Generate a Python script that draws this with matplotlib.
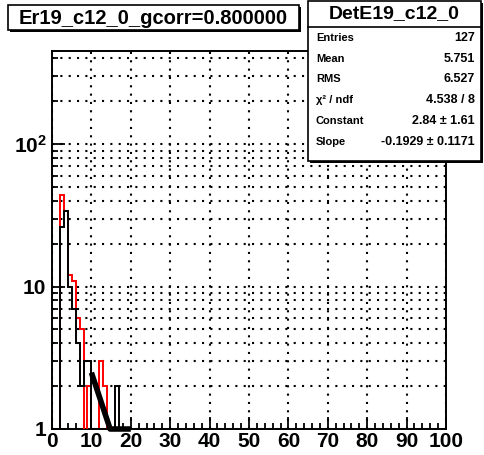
import matplotlib.pyplot as plt
import matplotlib.patches as patches
import numpy as np

plt.rcParams['font.family'] = ['Liberation Sans', 'DejaVu Sans']
plt.rcParams['font.weight'] = 'bold'
plt.rcParams['mathtext.fontset'] = 'custom'
plt.rcParams['mathtext.rm'] = 'Liberation Sans:bold'
plt.rcParams['mathtext.bf'] = 'Liberation Sans:bold'
plt.rcParams['mathtext.default'] = 'bf'

# histogram contents, bins of width 1 from 0 to 20 (rest empty up to 100)
black_counts = [0, 0, 26, 34, 10, 7, 4, 2, 3, 3, 1, 1, 1, 1, 1, 1, 2, 1, 0, 0]
red_counts = [0, 0, 44, 34, 12, 11, 6, 5, 0, 2, 0, 0, 3, 2, 0, 0, 0, 0, 0, 0]

title = 'Er19_c12_0_gcorr=0.800000'
stat_name = 'DetE19_c12_0'
stat_labels = ['Entries', 'Mean', 'RMS', 'χ² / ndf', 'Constant', 'Slope']
stat_values = ['127', '5.751', '6.527', '4.538 / 8', '2.84 ± 1.61', '-0.1929 ± 0.1171']

fit_const = 2.84
fit_slope = -0.1929
fit_range = (10, 20)

xmax = 100
ymin, ymax = 1, 450

W, H = 485, 455
fig = plt.figure(figsize=(W / 100, H / 100), dpi=100)
ax = fig.add_axes([52 / W, (H - 429) / H, (446 - 52) / W, (429 - 51) / H])

edges = np.arange(0, xmax + 1)
black = np.zeros(xmax)
red = np.zeros(xmax)
black[:len(black_counts)] = black_counts
red[:len(red_counts)] = red_counts

ax.set_yscale('log')
ax.set_xlim(0, xmax)
ax.set_ylim(ymin, ymax)

ax.stairs(red, edges, baseline=0, color='red', lw=1.4, zorder=3)
ax.stairs(black, edges, baseline=0, color='black', lw=1.4, zorder=4)

xf = np.linspace(fit_range[0], fit_range[1], 300)
yf = np.exp(fit_const + fit_slope * xf)
ax.plot(xf, np.clip(yf, ymin, None), color='black', lw=4, zorder=5,
        clip_on=False, solid_capstyle='butt')

# ticks and grid
ax.set_xticks(np.arange(0, 101, 10))
ax.set_xticks(np.arange(0, 101, 2), minor=True)
ax.set_yticks([1, 10, 100])
ax.set_yticklabels(['1', '10', r'$10^{2}$'])
ym = [m * d for d in (1, 10, 100) for m in range(2, 10) if m * d < ymax]
ax.set_yticks(ym, minor=True)
ax.set_yticklabels([], minor=True)
ax.grid(True, which='major', axis='x', color='black', ls=(0, (1, 3)), lw=1.5)
ax.grid(True, which='both', axis='y', color='black', ls=(0, (1, 3)), lw=1.5)
ax.set_axisbelow(True)

ax.tick_params(which='both', direction='in', top=False, right=False, width=1.3)
ax.tick_params(which='major', length=9, labelsize=15, pad=2)
ax.tick_params(which='minor', length=4.5)
ax.tick_params(axis='y', which='major', pad=4)
for s in ax.spines.values():
    s.set_linewidth(1.4)
for lab in ax.get_xticklabels() + ax.get_yticklabels():
    lab.set_fontweight('bold')


def box(x0, y0, x1, y1):
    sh = patches.Rectangle(((x0 + 2) / W, 1 - (y1 + 2) / H), (x1 - x0) / W, (y1 - y0) / H,
                           transform=fig.transFigure, facecolor='black', edgecolor='black', lw=0)
    r = patches.Rectangle((x0 / W, 1 - y1 / H), (x1 - x0) / W, (y1 - y0) / H,
                          transform=fig.transFigure, facecolor='white', edgecolor='black', lw=1.2)
    fig.add_artist(sh)
    fig.add_artist(r)


# title box
box(8, 5, 299, 30)
fig.text(153 / W, 1 - 18 / H, title, ha='center', va='center', fontsize=14.5, fontweight='bold')

# stats box
box(308, 1, 481, 161)
fig.add_artist(plt.Line2D([308 / W, 481 / W], [1 - 27 / H, 1 - 27 / H], transform=fig.transFigure,
                          color='black', lw=1.2))
fig.text(394 / W, 1 - 14 / H, stat_name, ha='center', va='center', fontsize=14, fontweight='bold')
row_y = [38, 59, 79, 100, 121, 142]
for lab, val, yy in zip(stat_labels, stat_values, row_y):
    fig.text(316 / W, 1 - yy / H, lab, ha='left', va='center', fontsize=8, fontweight='bold')
    fig.text(475 / W, 1 - yy / H, val, ha='right', va='center', fontsize=9, fontweight='bold')

fig.savefig('out.png', dpi=100)
